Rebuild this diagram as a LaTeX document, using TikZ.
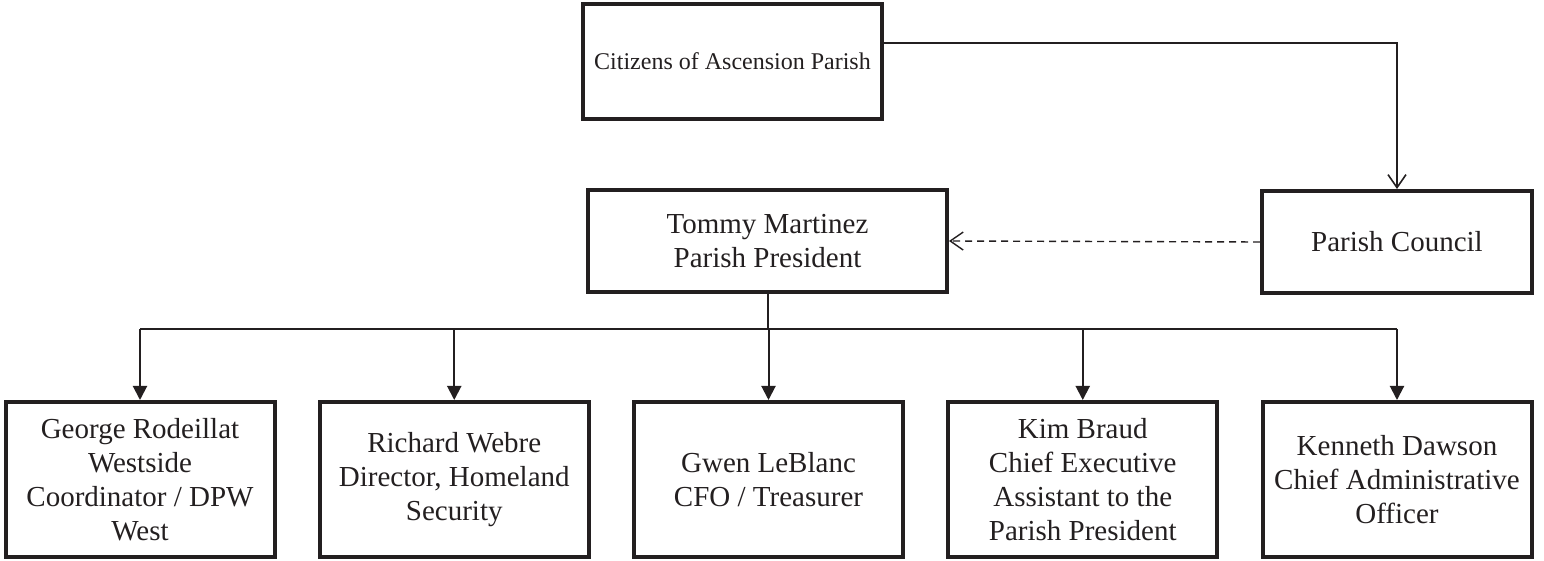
\documentclass[tikz,border=0pt]{standalone}
\usepackage{fontspec}
\setmainfont{Liberation Serif}
\usepackage{xcolor}
\usetikzlibrary{positioning,arrows.meta}
\definecolor{ink}{HTML}{231F20}

\begin{document}
\begin{tikzpicture}[
				x=0.5pt, y=-0.5pt,
				squarednode/.style={rectangle, draw=ink, text=ink, line width=2pt, inner sep=0pt, align=center, font=\fontsize{14.5}{17}\selectfont},
				topnode/.style={squarednode, minimum width=149.5pt, minimum height=57.5pt, font=\fontsize{12}{14}\selectfont},
				midnode/.style={squarednode, minimum height=51pt},
				staffnode/.style={squarednode, minimum width=134.5pt, minimum height=77.5pt},
				solidarrow/.style={draw=ink, line width=1pt, -{Triangle[width=7pt,length=7pt]}},
				openarrow/.style={draw=ink, line width=0.8pt, -{Straight Barb[width=9pt,length=6.5pt]}},
				node distance = 20.625pt,
				]
				\useasboundingbox (0,0) rectangle (1544,561);
				%Nodes
				\node[topnode](citizens) at (732.5,61.5){Citizens of Ascension Parish};
				\node[midnode, minimum width=179.5pt](tommy) at (767.5,241){Tommy Martinez\\Parish President};
				\node[midnode, minimum width=135pt](council) at (1397,242){Parish Council};
				
				\node[staffnode](george) at (140,479.5){George Rodeillat\\Westside\\Coordinator / DPW\\West};
				\node[staffnode](richard)[right=of george]{Richard Webre\\Director, Homeland\\Security};
				\node[staffnode](gwen)[right=of richard]{Gwen LeBlanc\\CFO / Treasurer};
				\node[staffnode](kim)[right=of gwen]{Kim Braud\\Chief Executive\\Assistant to the\\Parish President};
				\node[staffnode](kenneth)[right=of kim]{Kenneth Dawson\\Chief Administrative\\Officer};
				
				\coordinate (turn) at (1397,43);
				\coordinate (bus) at (767.5,329);
				
				%Lines
				\draw[openarrow] (citizens.east |- turn) -- (turn) -- (council.north);
				\draw[openarrow, line width=0.7pt, dash pattern=on 3.5pt off 2.5pt] (council.west) -- (tommy.east);
				
				\draw[draw=ink, line width=1pt] (tommy.south) -- (bus);
				\draw[draw=ink, line width=1pt] (george.north |- bus) -- (kenneth.north |- bus);
				\foreach \staff in {george, richard, gwen, kim, kenneth}
					\draw[solidarrow] (\staff.north |- bus) -- (\staff.north);
				
			\end{tikzpicture}
\end{document}
